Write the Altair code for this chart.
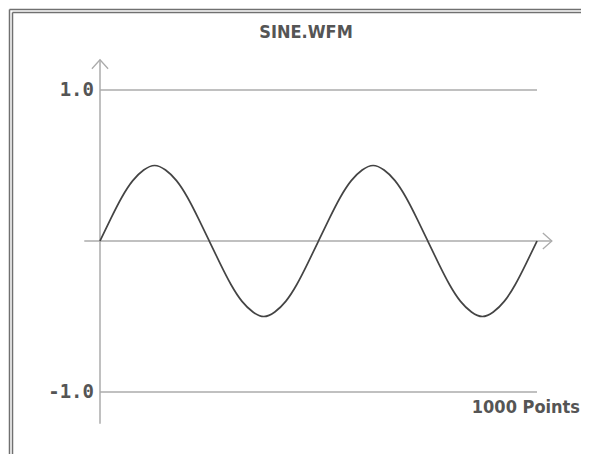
import altair as alt
import pandas as pd

# ---- data ----
TITLE = "SINE.WFM"
POINTS_LABEL = "1000 Points"
sample_index = list(range(0, 1001, 25))
amplitude = [
    0.00, 0.15, 0.29, 0.40, 0.47, 0.50, 0.47, 0.40, 0.29, 0.15,
    0.00, -0.15, -0.29, -0.40, -0.47, -0.50, -0.47, -0.40, -0.29, -0.15,
    0.00, 0.15, 0.29, 0.40, 0.47, 0.50, 0.47, 0.40, 0.29, 0.15,
    0.00, -0.15, -0.29, -0.40, -0.47, -0.50, -0.47, -0.40, -0.29, -0.15,
    0.00,
]
grid_values = [1.0, -1.0]
grid_labels = ["1.0", "-1.0"]
x_domain = [0, 1000]
y_domain = [-1.0, 1.0]
x_axis_extent = [-36, 1034]
y_axis_extent = [1.2, -1.21]

# ---- styling ----
W, H = 573, 446
LINE_GREY = "#ababab"
TEXT_GREY = "#555555"
WAVE = "#444444"
NUM_FONT = "DejaVu Sans Mono"
LBL_FONT = "DejaVu Sans Condensed, Liberation Sans Narrow, Roboto Condensed, DejaVu Sans"

xs = alt.Scale(domain=x_domain, range=[92, 529], nice=False, zero=False)
ys = alt.Scale(domain=y_domain, range=[384, 82], nice=False, zero=False)

wave_df = pd.DataFrame({"i": sample_index, "v": amplitude})
grid_df = pd.DataFrame({"y": grid_values, "label": grid_labels,
                        "x0": [x_domain[0]] * 2, "x1": [x_domain[1]] * 2})
yaxis_df = pd.DataFrame({"x": [0], "y": [y_axis_extent[0]], "y2": [y_axis_extent[1]]})
xaxis_df = pd.DataFrame({"y": [0.0], "x": [x_axis_extent[0]], "x2": [x_axis_extent[1]]})
one = pd.DataFrame({"k": [0]})

X = lambda f: alt.X(f, type="quantitative", scale=xs, axis=None)
Y = lambda f: alt.Y(f, type="quantitative", scale=ys, axis=None)

grid = alt.Chart(grid_df).mark_rule(color=LINE_GREY, strokeWidth=1.5).encode(
    x=X("x0"), x2="x1", y=Y("y"))
yaxis = alt.Chart(yaxis_df).mark_rule(color=LINE_GREY, strokeWidth=1.5).encode(
    x=X("x"), y=Y("y"), y2="y2")
xaxis = alt.Chart(xaxis_df).mark_rule(color=LINE_GREY, strokeWidth=1.5).encode(
    x=X("x"), x2="x2", y=Y("y"))
up_arrow = alt.Chart(yaxis_df).mark_point(
    shape="M -0.9 1 L 0 0 L 0.9 1", size=324, filled=False, opacity=1,
    color=LINE_GREY, strokeWidth=1.3).encode(x=X("x"), y=Y("y"))
right_arrow = alt.Chart(xaxis_df).mark_point(
    shape="M -1 -0.9 L 0 0 L -1 0.9", size=324, filled=False, opacity=1,
    color=LINE_GREY, strokeWidth=1.3).encode(x=X("x2"), y=Y("y"))

wave = alt.Chart(wave_df).mark_line(color=WAVE, strokeWidth=1.7, interpolate="natural").encode(
    x=X("i"), y=Y("v"))

ylabels = alt.Chart(grid_df).mark_text(
    align="right", baseline="middle", dx=-6, font=NUM_FONT, fontSize=19,
    fontWeight="bold", color=TEXT_GREY).encode(x=X("x0"), y=Y("y"), text="label:N")

pts_df = pd.DataFrame({"x": [x_domain[1]], "y": [y_domain[0]], "t": [POINTS_LABEL]})
pts_label = alt.Chart(pts_df).mark_text(
    align="right", baseline="middle", dx=43, dy=16, font=LBL_FONT, fontSize=18,
    fontWeight="bold", color=TEXT_GREY).encode(x=X("x"), y=Y("y"), text="t:N")

title_df = pd.DataFrame({"t": [TITLE]})
title = alt.Chart(title_df).mark_text(
    align="center", baseline="middle", font=LBL_FONT, fontSize=18,
    fontWeight="bold", color=TEXT_GREY).encode(x=alt.value(298), y=alt.value(25), text="t:N")

# window frame (double line on left and top)
frame = []
for off in (1.5, 4.5):
    frame.append(alt.Chart(one).mark_rule(color="#707070", strokeWidth=1.5).encode(
        x=alt.value(off), y=alt.value(off), y2=alt.value(H)))
    frame.append(alt.Chart(one).mark_rule(color="#707070", strokeWidth=1.5).encode(
        y=alt.value(off), x=alt.value(off), x2=alt.value(W)))

chart = alt.layer(
    *frame, grid, xaxis, yaxis, up_arrow, right_arrow, wave, ylabels, pts_label, title
).properties(
    width=W, height=H, padding=0, autosize=alt.AutoSizeParams(type="none"),
    background="white"
).configure_view(strokeWidth=0)

chart.save("out.html", embed_options={"renderer": "svg", "actions": False})
